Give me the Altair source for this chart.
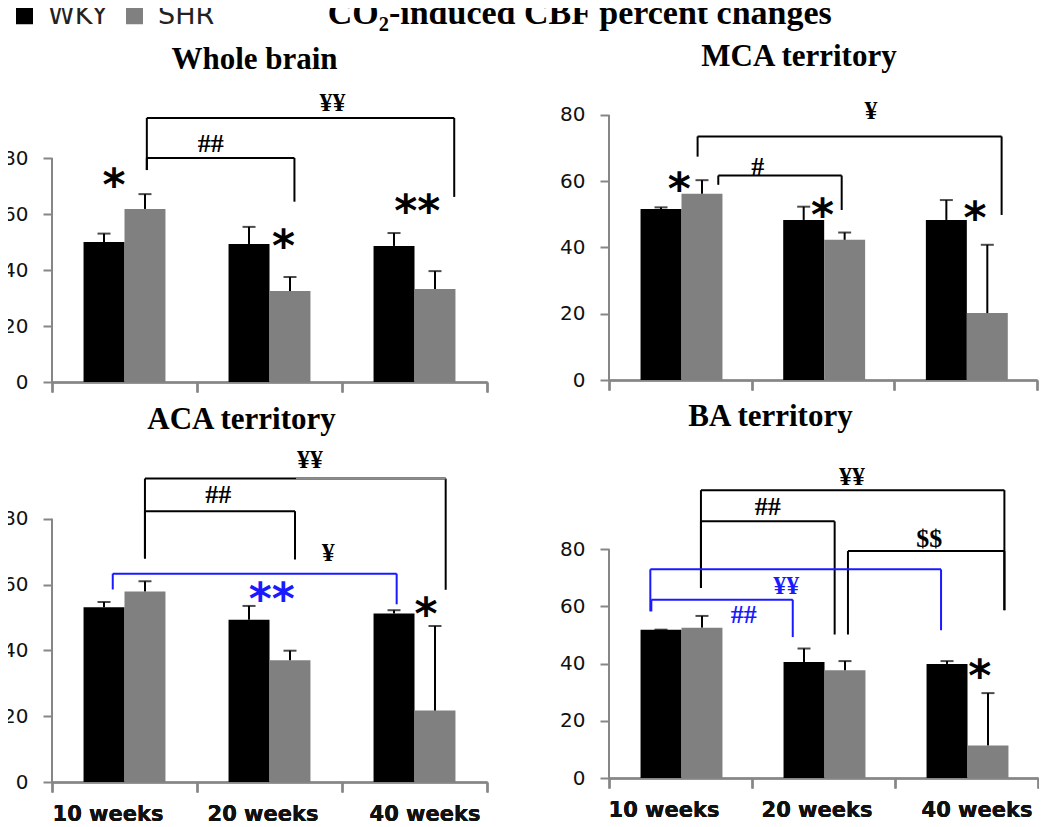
import altair as alt
import pandas as pd

WEEKS = ["10 weeks", "20 weeks", "40 weeks"]
GROUPS = ["WKY", "SHR"]

# ---- bar values (mean, +error) ----
WB_WKY = [50.0, 49.3, 48.6]
WB_WKY_ERR = [3.0, 6.1, 4.6]
WB_SHR = [61.8, 32.5, 33.2]
WB_SHR_ERR = [5.3, 5.0, 6.4]

MCA_WKY = [51.6, 48.3, 48.3]
MCA_WKY_ERR = [0.5, 4.0, 6.0]
MCA_SHR = [56.2, 42.3, 20.2]
MCA_SHR_ERR = [4.1, 2.2, 20.6]

ACA_WKY = [53.1, 49.3, 51.2]
ACA_WKY_ERR = [1.6, 4.2, 1.0]
ACA_SHR = [57.9, 37.0, 21.7]
ACA_SHR_ERR = [3.1, 2.9, 25.7]

BA_WKY = [51.9, 40.6, 39.9]
BA_WKY_ERR = [0.0, 4.7, 1.0]
BA_SHR = [52.6, 37.7, 11.4]
BA_SHR_ERR = [4.1, 3.2, 18.3]

# ---- significance brackets: (x_left, x_right, y_top, y_left_end, y_right_end, tone)
# x in group units (0..3 across the three week groups), y in percent
WB_BRACKETS = [(0.654, 2.774, 94.3, 75.7, 66.1, "black"),
               (0.654, 1.672, 80.0, 75.7, 64.4, "black")]
MCA_BRACKETS = [(0.621, 2.752, 73.5, 67.4, 49.8, "black"),
                (0.766, 1.631, 61.7, 58.9, 51.3, "black")]
ACA_BRACKETS = [(0.641, 2.715, 92.2, 67.9, 58.4, "black"),
                (0.641, 1.676, 82.3, 67.9, 67.6, "black"),
                (0.419, 2.377, 63.3, 58.5, 54.0, "blue")]
ACA_GRAY_SEG = [(1.683, 2.715, 92.2)]
BA_BRACKETS = [(0.643, 2.765, 100.7, 66.5, 58.7, "black"),
               (0.643, 1.578, 89.8, 66.5, 50.2, "black"),
               (1.671, 2.765, 79.4, 50.2, 58.7, "black"),
               (0.289, 2.322, 73.0, 58.3, 51.7, "blue"),
               (0.296, 1.285, 62.4, 58.3, 49.3, "blue")]

# ---- significance labels: (text, x, y, tone)
WB_LABELS = [("¥¥", 1.934, 99.6, "black"), ("##", 1.094, 85.0, "black")]
WB_STARS = [("*", 0.427, 74.3, "black"), ("*", 1.597, 52.5, "black"),
            ("**", 2.519, 65.0, "black")]
MCA_LABELS = [("¥", 1.836, 81.2, "black"), ("#", 1.042, 64.4, "black")]
MCA_STARS = [("*", 0.493, 61.1, "black"), ("*", 1.497, 53.0, "black"),
             ("*", 2.565, 52.3, "black")]
ACA_LABELS = [("¥¥", 1.779, 97.7, "black"), ("##", 1.147, 87.1, "black"),
              ("¥", 1.906, 69.6, "black")]
ACA_STARS = [("*", 2.579, 54.5, "black"), ("**", 1.515, 58.9, "blue")]
BA_LABELS = [("¥¥", 1.699, 105.3, "black"), ("##", 1.110, 94.8, "black"),
             ("$$", 2.240, 83.5, "black"), ("¥¥", 1.240, 67.2, "blue"),
             ("##", 0.942, 56.9, "blue")]
BA_STARS = [("*", 2.592, 39.7, "black")]

TONE = {"black": "#000000", "blue": "#1a1aff", "gray": "#8c8c8c"}
AXIS_GRAY = "#868686"

color_enc = alt.Color(
    "group:N",
    sort=GROUPS,
    scale=alt.Scale(domain=GROUPS, range=["#000000", "#808080"]),
    legend=alt.Legend(orient="none", legendX=-41, legendY=-93, direction="horizontal",
                      title=None, symbolType="square", symbolSize=289,
                      symbolStrokeWidth=0, labelFont="DejaVu Sans", labelFontSize=27,
                      labelColor="#222222", labelOffset=10, columnPadding=13),
)

LABEL_SHIFT = {"condition": [{"test": "datum.index < 0.25", "value": -17},
                             {"test": "datum.index > 0.75", "value": 10}],
               "value": -7}


def panel(title, wky, wky_err, shr, shr_err, brackets, labels, stars,
          width, height, ytop, show_labels, tdx, toffset, gray_segs=()):
    rows = []
    for i, w in enumerate(WEEKS):
        rows.append({"week": w, "group": "WKY", "value": wky[i], "top": wky[i] + wky_err[i]})
        rows.append({"week": w, "group": "SHR", "value": shr[i], "top": shr[i] + shr_err[i]})
    bars_df = pd.DataFrame(rows)

    yscale = alt.Scale(domain=[0, ytop], nice=False, zero=True)
    yaxis = alt.Axis(values=[0, 20, 40, 60, 80], title=None, domain=False, grid=False,
                     orient="left",
                     labelFont="DejaVu Sans", labelFontSize=20, labelColor="#111111",
                     tickColor=AXIS_GRAY, tickWidth=2, tickSize=9, labelPadding=15)
    xaxis = alt.Axis(title=None, labels=show_labels, labelAngle=0, tickBand="extent",
                     orient="bottom",
                     domainColor=AXIS_GRAY, domainWidth=2, tickColor=AXIS_GRAY,
                     tickWidth=2, tickSize=10, labelFont="DejaVu Sans",
                     labelFontWeight="bold", labelFontSize=21, labelColor="#111111",
                     labelPadding=11, labelOffset=LABEL_SHIFT)
    xband = alt.X("week:N", sort=WEEKS, scale=alt.Scale(paddingInner=0, paddingOuter=0),
                  axis=xaxis)
    xoff = alt.XOffset("group:N", sort=GROUPS,
                       scale=alt.Scale(paddingInner=0, paddingOuter=0.77))

    base = alt.Chart(bars_df)
    bars = base.mark_bar().encode(x=xband, xOffset=xoff,
                                  y=alt.Y("value:Q", scale=yscale, axis=yaxis),
                                  color=color_enc)
    err = base.mark_rule(color="black", strokeWidth=2).encode(
        x=xband, xOffset=xoff, y=alt.Y("value:Q", scale=yscale, axis=yaxis), y2="top:Q")
    cap = base.mark_tick(color="black", size=13, thickness=2).encode(
        x=xband, xOffset=xoff, y=alt.Y("top:Q", scale=yscale, axis=yaxis))

    xq = alt.Scale(domain=[0, 3], nice=False, zero=False)

    # y axis line (only up to 80, like the original)
    axis_line = alt.Chart(pd.DataFrame({"x": [0.0], "y": [0.0], "y2": [80.0]})).mark_rule(
        color=AXIS_GRAY, strokeWidth=2).encode(
        x=alt.X("x:Q", scale=xq, axis=None),
        y=alt.Y("y:Q", scale=yscale, axis=yaxis), y2="y2:Q")

    segs = []
    for xl, xr, yt, yl, yr, tone in brackets:
        segs.append({"x": xl, "x2": xr, "y": yt, "y2": yt, "tone": tone})
        segs.append({"x": xl, "x2": xl, "y": yt, "y2": yl, "tone": tone})
        segs.append({"x": xr, "x2": xr, "y": yt, "y2": yr, "tone": tone})
    for xl, xr, yt in gray_segs:
        segs.append({"x": xl, "x2": xr, "y": yt, "y2": yt, "tone": "gray"})
    seg_df = pd.DataFrame(segs)

    layers = [bars, err, cap, axis_line]
    for tone in ["black", "blue", "gray"]:
        sub = seg_df[seg_df["tone"] == tone]
        if len(sub):
            layers.append(alt.Chart(sub).mark_rule(color=TONE[tone], strokeWidth=2).encode(
                x=alt.X("x:Q", scale=xq, axis=None), x2="x2:Q",
                y=alt.Y("y:Q", scale=yscale, axis=yaxis), y2="y2:Q"))

    lab_df = pd.DataFrame(labels, columns=["text", "x", "y", "tone"])
    star_df = pd.DataFrame(stars, columns=["text", "x", "y", "tone"])
    for tone in ["black", "blue"]:
        sub = lab_df[lab_df["tone"] == tone]
        if len(sub):
            layers.append(alt.Chart(sub).mark_text(
                font="Liberation Serif", fontWeight="bold", fontSize=26,
                baseline="middle", color=TONE[tone]).encode(
                x=alt.X("x:Q", scale=xq, axis=None),
                y=alt.Y("y:Q", scale=yscale, axis=yaxis), text="text:N"))
        sub = star_df[star_df["tone"] == tone]
        if len(sub):
            layers.append(alt.Chart(sub).mark_text(
                font="DejaVu Sans", fontWeight="bold", fontSize=44,
                baseline="middle", dy=13, color=TONE[tone]).encode(
                x=alt.X("x:Q", scale=xq, axis=None),
                y=alt.Y("y:Q", scale=yscale, axis=yaxis), text="text:N"))

    return alt.layer(*layers).resolve_scale(x="independent").properties(
        width=width, height=height,
        title=alt.TitleParams(title, font="Liberation Serif", fontWeight="bold",
                              fontSize=31, color="#000000", anchor="middle",
                              frame="group", dx=tdx, offset=toffset,
                              baseline="alphabetic"))


tl = panel("Whole brain", WB_WKY, WB_WKY_ERR, WB_SHR, WB_SHR_ERR, WB_BRACKETS,
           WB_LABELS, WB_STARS, 435, 287, 102.5, False, -15, -10)
tr = panel("MCA territory", MCA_WKY, MCA_WKY_ERR, MCA_SHR, MCA_SHR_ERR, MCA_BRACKETS,
           MCA_LABELS, MCA_STARS, 428, 285, 86.0, False, -24, -2)
bl = panel("ACA territory", ACA_WKY, ACA_WKY_ERR, ACA_SHR, ACA_SHR_ERR, ACA_BRACKETS,
           ACA_LABELS, ACA_STARS, 435, 337, 102.4, True, -28, -15, ACA_GRAY_SEG)
br = panel("BA territory", BA_WKY, BA_WKY_ERR, BA_SHR, BA_SHR_ERR, BA_BRACKETS,
           BA_LABELS, BA_STARS, 429, 333, 116.5, True, -53, -12)

chart = alt.concat(tl, tr, bl, br, columns=2, spacing={"row": 63, "column": 122},
                   bounds="flush", align="each").properties(
    title=alt.TitleParams("CO₂-induced CBF percent changes", font="Liberation Serif",
                          fontWeight="bold", fontSize=34, color="#000000",
                          anchor="middle", frame="bounds", dx=59, offset=-56,
                          baseline="alphabetic"),
    padding={"left": -6, "top": -11, "right": 0, "bottom": 0},
).configure_view(stroke=None)

chart.save("out.html", embed_options={"renderer": "svg", "actions": False})
